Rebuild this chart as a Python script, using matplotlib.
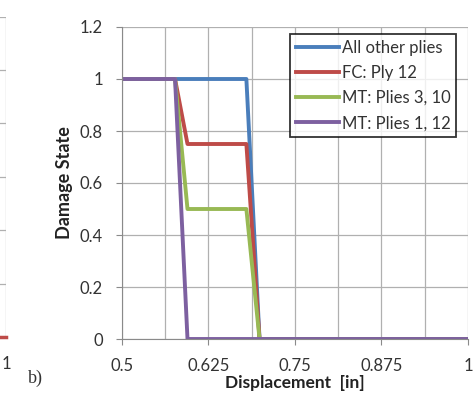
import numpy as np
import matplotlib.pyplot as plt
from matplotlib.ticker import MultipleLocator, FixedLocator, FuncFormatter

# Damage state vs. displacement for each ply group
disp_other = [0.5, 0.577, 0.680, 0.699, 1.0]
dmg_other = [1, 1, 1, 0, 0]

disp_fc12 = [0.5, 0.577, 0.595, 0.680, 0.699, 1.0]
dmg_fc12 = [1, 1, 0.75, 0.75, 0, 0]

disp_mt310 = [0.5, 0.577, 0.595, 0.680, 0.699, 1.0]
dmg_mt310 = [1, 1, 0.5, 0.5, 0, 0]

disp_mt112 = [0.5, 0.577, 0.595, 1.0]
dmg_mt112 = [1, 1, 0, 0]

# tail end of panel a (only its last few pixels are on the page)
disp_a = [0.5, 0.95, 1.0]
dmg_a = [0, 0, 0]

labels = ["All other plies", "FC: Ply 12", "MT: Plies 3, 10", "MT: Plies 1, 12"]
colors = ["#4A7EBB", "#BE4B48", "#98B954", "#7D60A0"]

plt.rcParams['font.family'] = ['Lato', 'DejaVu Sans']
GRID = "#b0b0b0"
AXIS = "#8a8a8a"
TXT = "#333333"

fig = plt.figure(figsize=(4.75, 4.0), dpi=100)

def gfmt(v, pos):
    return "%g" % v

# ---- panel a (cropped) ----
ax_a = fig.add_axes([-0.716, 0.1575, 0.729, 0.801])
ax_a.plot(disp_a, dmg_a, color=colors[1], lw=2.5, clip_on=False)
ax_a.set_xlim(0.5, 1.0)
ax_a.set_ylim(0, 1.2)
ax_a.xaxis.set_major_locator(FixedLocator([1.0]))
ax_a.xaxis.set_minor_locator(MultipleLocator(0.0625))
ax_a.yaxis.set_major_locator(MultipleLocator(0.2))
ax_a.xaxis.set_major_formatter(FuncFormatter(gfmt))
ax_a.grid(True, which='both', color=GRID, lw=0.9)
for s in ax_a.spines.values():
    s.set_visible(False)
ax_a.tick_params(axis='x', which='major', length=0, pad=14, labelsize=12, labelcolor=TXT)
ax_a.tick_params(axis='x', which='minor', length=0)
ax_a.tick_params(axis='y', left=False, labelleft=False)

# ---- panel b ----
ax = fig.add_axes([0.2562, 0.1525, 0.7291, 0.78])
ax.plot(disp_other, dmg_other, color=colors[0], lw=2.8, label=labels[0])
ax.plot(disp_fc12, dmg_fc12, color=colors[1], lw=2.8, label=labels[1])
ax.plot(disp_mt310, dmg_mt310, color=colors[2], lw=2.8, label=labels[2])
ax.plot(disp_mt112, dmg_mt112, color=colors[3], lw=2.8, label=labels[3])

ax.set_xlim(0.5, 1.0)
ax.set_ylim(0, 1.2)
ax.xaxis.set_major_locator(MultipleLocator(0.125))
ax.xaxis.set_minor_locator(MultipleLocator(0.0625))
ax.yaxis.set_major_locator(MultipleLocator(0.2))
ax.xaxis.set_major_formatter(FuncFormatter(gfmt))
ax.yaxis.set_major_formatter(FuncFormatter(gfmt))
ax.grid(True, which='both', color=GRID, lw=0.9)
ax.set_axisbelow(True)

ax.spines['top'].set_visible(False)
ax.spines['right'].set_visible(False)
ax.spines['left'].set_color(AXIS)
ax.spines['bottom'].set_color(AXIS)
ax.tick_params(which='major', direction='out', length=4.5, color=AXIS,
               labelsize=12, labelcolor=TXT)
ax.tick_params(axis='y', pad=9)
ax.tick_params(axis='x', pad=9)
ax.tick_params(which='minor', length=0)

ax.set_ylabel("Damage State", fontsize=13, fontweight='bold', color='#222222')
ax.yaxis.set_label_coords(-0.164, 0.5)
ax.set_xlabel("Displacement  [in]", fontsize=12.5, fontweight='bold', color='#222222')
ax.xaxis.set_label_coords(0.5, -0.141)
ax.xaxis.label.set_va('center')
ax.yaxis.label.set_va('center')

leg = ax.legend(loc='upper right', bbox_to_anchor=(0.966, 0.978), borderaxespad=0,
                fontsize=12, frameon=True, fancybox=False, handlelength=2.6,
                handletextpad=0.15, labelspacing=0.55, borderpad=0.35)
leg.get_frame().set_edgecolor('black')
leg.get_frame().set_linewidth(1.3)
for t in leg.get_texts():
    t.set_color(TXT)

fig.text(0.074, 0.055, "b)", fontsize=13, family=['Liberation Serif'], color=TXT,
         ha='center', va='center')

fig.savefig("out.png", dpi=100)
